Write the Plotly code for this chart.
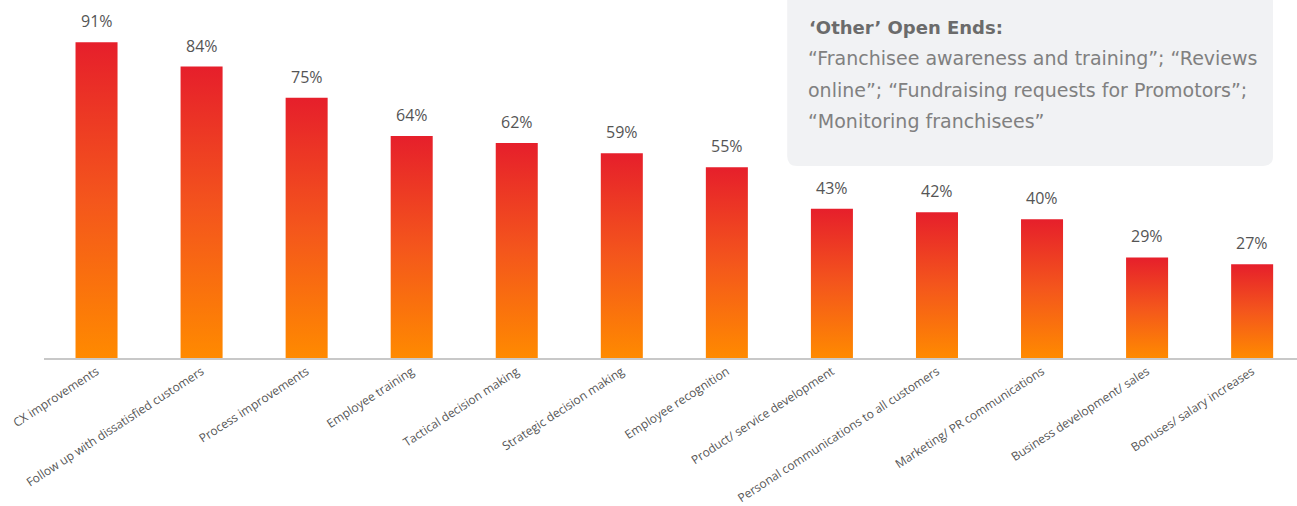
import plotly.graph_objects as go

# Survey results: share of respondents using feedback for each purpose
categories = [
    "CX improvements",
    "Follow up with dissatisfied customers",
    "Process improvements",
    "Employee training",
    "Tactical decision making",
    "Strategic decision making",
    "Employee recognition",
    "Product/ service development",
    "Personal communications to all customers",
    "Marketing/ PR communications",
    "Business development/ sales",
    "Bonuses/ salary increases",
]
values = [91, 84, 75, 64, 62, 59, 55, 43, 42, 40, 29, 27]
value_labels = [f"{v}%" for v in values]

note_title = "\u2018Other\u2019 Open Ends:"
note_lines = [
    "\u201cFranchisee awareness and training\u201d; \u201cReviews",
    "online\u201d; \u201cFundraising requests for Promotors\u201d;",
    "\u201cMonitoring franchisees\u201d",
]

W, H = 1297, 506
ML, MB = 43.5, 148
BAR_HALF = 0.2
X_MAX = 11.427
Y_MAX = 103.2

fig = go.Figure()

# Each bar is a filled rectangle with a vertical orange-to-red gradient
for i, v in enumerate(values):
    fig.add_trace(go.Scatter(
        x=[i - BAR_HALF, i + BAR_HALF, i + BAR_HALF, i - BAR_HALF, i - BAR_HALF],
        y=[0, 0, v, v, 0],
        mode="lines",
        line=dict(width=0),
        fill="toself",
        fillgradient=dict(type="vertical",
                          colorscale=[[0, "#ff8a00"], [0.5, "#f4561c"], [1, "#e61f2b"]]),
        hoverinfo="skip",
        showlegend=False,
    ))

# Value labels above bars
for i, (v, lab) in enumerate(zip(values, value_labels)):
    fig.add_annotation(x=i, y=v, text=lab, showarrow=False, yanchor="bottom",
                       yshift=8, font=dict(family="Open Sans", size=16, color="#555555"))

# Callout box (rounded corners) in the upper right
plot_w = W - ML
plot_h = H - MB


def px_x(p):
    return (p - ML) / plot_w


def px_y(p):
    return (plot_h - p) / plot_h


bx0, bx1, by0, by1, r = 787, 1273, -20, 166, 10
path = (
    f"M {px_x(bx0)},{px_y(by0)} "
    f"L {px_x(bx1)},{px_y(by0)} "
    f"L {px_x(bx1)},{px_y(by1 - r)} "
    f"Q {px_x(bx1)},{px_y(by1)} {px_x(bx1 - r)},{px_y(by1)} "
    f"L {px_x(bx0 + r)},{px_y(by1)} "
    f"Q {px_x(bx0)},{px_y(by1)} {px_x(bx0)},{px_y(by1 - r)} Z"
)
fig.add_shape(type="path", path=path, xref="paper", yref="paper",
              fillcolor="#f1f2f4", line=dict(width=0), layer="below")

fig.add_annotation(xref="paper", yref="paper", x=px_x(807), y=px_y(27),
                   xanchor="left", yanchor="middle", showarrow=False,
                   text=f"<b>{note_title}</b>",
                   font=dict(family="DejaVu Sans", size=18, color="#6b6b6b"))
for k, line in enumerate(note_lines):
    fig.add_annotation(xref="paper", yref="paper", x=px_x(806), y=px_y(58 + 31.5 * k),
                       xanchor="left", yanchor="middle", showarrow=False,
                       text=line, font=dict(family="DejaVu Sans", size=19, color="#808080"))

fig.update_layout(
    width=W, height=H,
    margin=dict(l=ML, r=0, t=0, b=MB),
    plot_bgcolor="white", paper_bgcolor="white",
    xaxis=dict(
        range=[-0.5, X_MAX],
        tickmode="array",
        tickvals=list(range(len(categories))),
        ticktext=categories,
        tickangle=-33,
        showgrid=False, zeroline=False,
        showline=True, linecolor="#c8c8c8", linewidth=2,
        ticks="",
        tickfont=dict(family="Open Sans", size=12, color="#555555"),
    ),
    yaxis=dict(range=[0, Y_MAX], visible=False, fixedrange=True),
)

fig.write_html("out.html")
